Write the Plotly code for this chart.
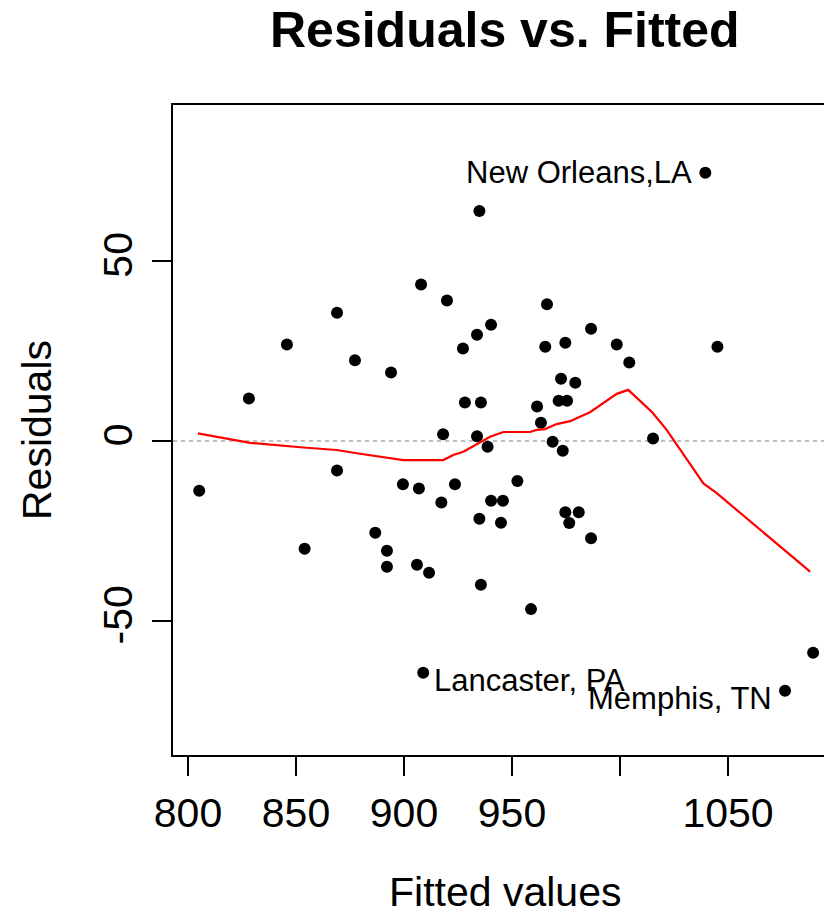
import plotly.graph_objects as go

fitted = [934.9, 907.9, 919.9, 869.0, 940.3, 933.8, 927.3, 845.8, 877.3, 894.0,
          828.2, 928.2, 935.6, 918.1, 933.8, 938.7, 1039.5, 966.2, 986.6, 965.4,
          974.7, 998.5, 1004.3, 1045.1, 972.7, 979.3, 971.6, 975.5, 961.6, 963.4,
          1015.3, 968.8, 973.5, 805.2, 869.0, 854.0, 899.5, 906.9, 923.6, 917.3,
          940.3, 945.8, 934.9, 944.9, 886.7, 892.1, 892.1, 906.0, 911.6, 935.6,
          908.9, 952.5, 974.7, 980.9, 976.5, 986.6, 958.8, 1089.4, 1076.4]
resid = [63.9, 43.5, 39.0, 35.6, 32.3, 29.5, 25.7, 26.8, 22.4, 19.0,
         11.8, 10.7, 10.7, 1.9, 1.3, -1.6, 74.5, 38.0, 31.2, 26.2,
         27.3, 26.8, 21.8, 26.2, 17.3, 16.2, 11.2, 11.2, 9.6, 5.1,
         0.7, -0.2, -2.7, -13.8, -8.2, -29.9, -12.0, -13.2, -12.0, -17.1,
         -16.6, -16.6, -21.6, -22.7, -25.5, -30.5, -34.9, -34.4, -36.6, -39.9,
         -64.4, -11.1, -19.8, -19.8, -22.8, -27.0, -46.7, -58.8, -69.4]

smooth_x = [804.6, 828.7, 853.4, 868.8, 878.1, 899.7, 918.2, 922.8, 927.5, 939.8,
            946.0, 958.3, 961.4, 965.3, 970.7, 973.8, 976.9, 986.1, 992.3, 998.5,
            1003.8, 1014.9, 1021.6, 1038.6, 1044.8, 1088.0]
smooth_y = [2.1, -0.5, -1.8, -2.5, -3.4, -5.3, -5.3, -3.9, -3.0, 1.2,
            2.5, 2.5, 3.1, 3.3, 4.7, 5.1, 5.5, 8.0, 10.5, 13.1,
            14.2, 8.0, 3.1, -11.8, -14.5, -36.3]

label_names = ["New Orleans,LA", "Lancaster, PA", "Memphis, TN"]
label_idx = [16, 50, 58]
label_side = ["left", "right", "left"]

x_ticks = [800, 850, 900, 950, 1000, 1050]
x_ticktext = ["800", "850", "900", "950", "", "1050"]
y_ticks = [-50, 0, 50]
y_ticktext = ["-50", "0", "50"]

FONT = "Liberation Sans, Arial, Helvetica, sans-serif"

fig = go.Figure()
fig.add_trace(go.Scatter(x=[793.06, 1094.44], y=[0, 0], mode="lines",
                         line=dict(color="#BEBEBE", width=2, dash="4px,4px"),
                         hoverinfo="skip", showlegend=False))
fig.add_trace(go.Scatter(x=fitted, y=resid, mode="markers",
                         marker=dict(color="black", size=12),
                         showlegend=False))
fig.add_trace(go.Scatter(x=smooth_x, y=smooth_y, mode="lines",
                         line=dict(color="#FF0000", width=2.2),
                         showlegend=False))

annos = []
for name, i, side in zip(label_names, label_idx, label_side):
    xs = -11 if side == "left" else 9
    ys = 0 if i == 16 else -8
    annos.append(dict(x=fitted[i], y=resid[i], xref="x", yref="y", text=name,
                      showarrow=False, xanchor="right" if side == "left" else "left",
                      yanchor="middle", xshift=xs, yshift=ys,
                      font=dict(size=31, color="black", family=FONT)))

# title and axis titles
annos.append(dict(x=(505 - 173) / 651, y=(755 - 30) / 650, xref="paper", yref="paper",
                  text="<b>Residuals vs. Fitted</b>", showarrow=False,
                  xanchor="center", yanchor="middle",
                  font=dict(size=50, color="black", family=FONT)))
annos.append(dict(x=(505 - 173) / 651, y=(755 - 892) / 650, xref="paper", yref="paper",
                  text="Fitted values", showarrow=False,
                  xanchor="center", yanchor="middle",
                  font=dict(size=41, color="black", family=FONT)))
annos.append(dict(x=(37 - 173) / 651, y=(755 - 430) / 650, xref="paper", yref="paper",
                  text="Residuals", showarrow=False, textangle=-90,
                  xanchor="center", yanchor="middle",
                  font=dict(size=41, color="black", family=FONT)))

fig.update_layout(
    width=824, height=907,
    margin=dict(l=173, r=0, t=105, b=152, pad=0),
    paper_bgcolor="white", plot_bgcolor="white",
    font=dict(family=FONT, size=41, color="black"),
    annotations=annos,
    showlegend=False,
)
fig.update_xaxes(range=[793.06, 1094.44], tickvals=x_ticks, ticktext=x_ticktext,
                 ticks="outside", ticklen=19, tickwidth=1.5, tickcolor="black",
                 showline=True, linecolor="black", linewidth=2, mirror=True,
                 showgrid=False, zeroline=False, ticklabelstandoff=2,
                 tickfont=dict(size=41, family=FONT))
fig.update_yaxes(range=[-87.22, 93.33], tickvals=y_ticks, ticktext=y_ticktext,
                 ticks="outside", ticklen=19, tickwidth=1.5, tickcolor="black",
                 showline=True, linecolor="black", linewidth=2, mirror=False,
                 showgrid=False, zeroline=False, tickangle=-90,
                 ticklabelstandoff=4,
                 tickfont=dict(size=41, family=FONT))

fig.write_html("out.html")
